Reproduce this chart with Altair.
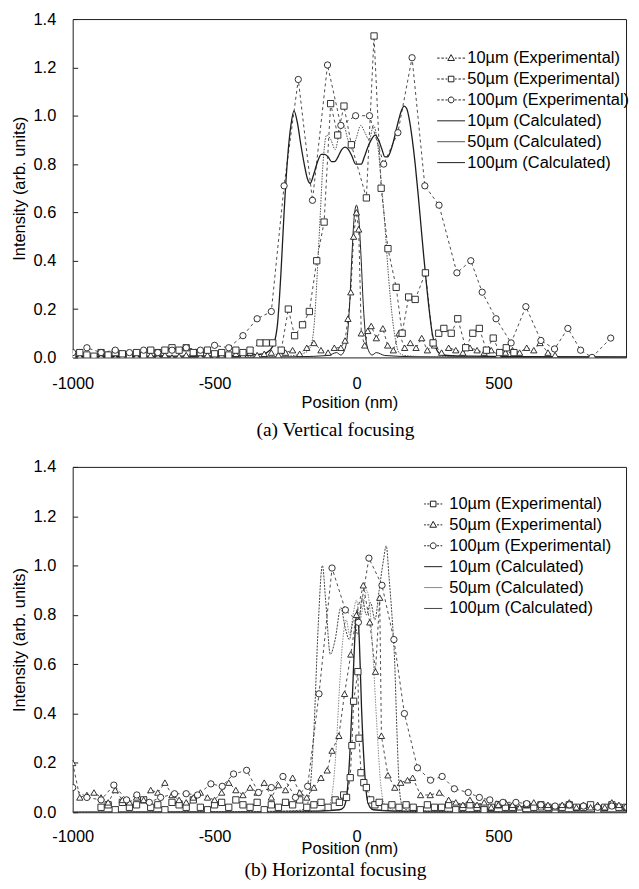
import altair as alt
import pandas as pd

FONT = "Liberation Sans"
SERIF = "Liberation Serif"
INK = "#1e1e1e"

EXP = ["10µm (Experimental)", "50µm (Experimental)", "100µm (Experimental)"]
CALC = ["10µm (Calculated)", "50µm (Calculated)", "100µm (Calculated)"]
SERIES = EXP + CALC

X_TICKS = [-1000, -500, 0, 500]
Y_TICKS = [0.0, 0.2, 0.4, 0.6, 0.8, 1.0, 1.2, 1.4]

# ---------------- (a) Vertical focusing ----------------
a_e10_x = list(range(-1000, -99, 25)) + [-78, -55, -40, -30, -20, -10, 0, 8, 17, 29, 40, 52, 70, 93] \
    + [110, 130, 150, 170, 190, 210, 230, 250] + list(range(275, 626, 25)) + [647, 675, 700]
a_e10_y = [0.01, 0.005, 0.01, 0.0, 0.005, 0.01, 0.0, 0.005, 0.01, 0.005, 0.0, 0.01, 0.005, 0.01, 0.0,
           0.005, 0.01, 0.015, 0.005, 0.01, 0.0, 0.01, 0.005, 0.015, 0.01, 0.02, 0.01, 0.015, 0.02, 0.01,
           0.02, 0.03, 0.015, 0.04, 0.06, 0.03, 0.02,
           0.04, 0.04, 0.07, 0.16, 0.27, 0.50, 0.60, 0.53, 0.10, 0.05, 0.11, 0.13, 0.08, 0.12,
           0.05, 0.03, 0.10, 0.04, 0.06, 0.04, 0.08, 0.03,
           0.05, 0.02, 0.04, 0.03, 0.02, 0.04, 0.03, 0.02, 0.03, 0.01, 0.02, 0.03, 0.02, 0.04, 0.03,
           0.06, 0.02, 0.01]

a_e50_x = list(range(-1000, -374, 25)) + [-340, -318, -295, -265, -240, -218, -190, -166, -140, -114,
                                          -91, -66, -44, -18, 35, 62, 87, 111, 140, 161, 184, 207, 243,
                                          270, 290, 308, 334, 357, 385, 410, 433, 458, 482, 505, 528, 555]
a_e50_y = [0.01, 0.02, 0.01, 0.005, 0.02, 0.01, 0.02, 0.015, 0.01, 0.02, 0.01, 0.03, 0.02, 0.03, 0.04,
           0.03, 0.04, 0.02, 0.02, 0.03, 0.015, 0.02, 0.01, 0.03, 0.02, 0.03,
           0.06, 0.06, 0.06, 0.03, 0.20, 0.09, 0.135, 0.19, 0.40, 0.56, 1.05, 0.92, 1.04, 0.88, 0.66,
           1.33, 0.70, 0.45, 0.29, 0.10, 0.25, 0.24, 0.35, 0.06, 0.10, 0.12, 0.10, 0.16, 0.04, 0.10,
           0.12, 0.03, 0.08, 0.02, 0.04, 0.02]

a_e100_x = [-1000, -950, -900, -850, -800, -750, -700, -650, -600, -550, -500, -450, -400, -350, -300,
            -255, -205, -155, -102, -55, -3, 46, 96, 146, 196, 241, 291, 354, 403, 443, 492, 545, 597,
            650, 698, 745, 790, 830, 896]
a_e100_y = [0.02, 0.04, 0.02, 0.03, 0.02, 0.03, 0.02, 0.03, 0.04, 0.03, 0.05, 0.04, 0.09, 0.16, 0.19,
            0.71, 1.15, 0.65, 1.21, 0.96, 1.00, 1.00, 0.80, 0.93, 1.24, 0.71, 0.63, 0.35, 0.40, 0.27,
            0.16, 0.06, 0.21, 0.07, 0.035, 0.12, 0.03, 0.0, 0.08]

a_c10_x = [-1000, -500, -200, -100, -70, -55, -42, -32, -24, -16, -8, 0, 8, 16, 24, 32, 42, 55, 70,
           100, 200, 500, 1000]
a_c10_y = [0, 0, 0.003, 0.008, 0.02, 0.01, 0.03, 0.09, 0.22, 0.42, 0.58, 0.63, 0.58, 0.42, 0.22, 0.09,
           0.03, 0.01, 0.02, 0.008, 0.003, 0, 0]

a_c50_x = [-1000, -500, -250, -180, -160, -148, -138, -128, -118, -105, -90, -75, -60, -45, -30, -15, 0,
           15, 30, 45, 60, 75, 88, 100, 112, 125, 138, 150, 170, 250, 500, 1000]
a_c50_y = [0, 0.002, 0.005, 0.02, 0.05, 0.15, 0.35, 0.58, 0.80, 0.92, 0.90, 0.86, 0.93, 0.96, 0.90,
           0.86, 0.91, 0.96, 0.93, 0.90, 0.96, 0.88, 0.72, 0.55, 0.35, 0.18, 0.07, 0.02, 0.008, 0.003,
           0.002, 0]

a_c100_x = [-1000, -600, -400, -330, -305, -290, -278, -266, -255, -243, -231, -220, -208, -196, -184,
            -173, -163, -150, -137, -124, -112, -100, -88, -77, -65, -52, -40, -28, -15, -3, 8, 17, 28,
            40, 52, 66, 78, 90, 100, 110, 122, 134, 146, 158, 168, 177, 187, 197, 207, 217, 227, 237,
            247, 257, 267, 280, 295, 320, 400, 600, 1000]
a_c100_y = [0.003, 0.005, 0.008, 0.015, 0.03, 0.06, 0.14, 0.35, 0.60, 0.82, 0.96, 1.02, 0.97, 0.88,
            0.80, 0.74, 0.72, 0.76, 0.81, 0.84, 0.84, 0.83, 0.81, 0.81, 0.83, 0.86, 0.87, 0.86, 0.83,
            0.80, 0.80, 0.80, 0.83, 0.87, 0.90, 0.92, 0.90, 0.86, 0.83, 0.83, 0.86, 0.91, 0.97, 1.02,
            1.04, 1.03, 0.98, 0.90, 0.80, 0.68, 0.55, 0.42, 0.30, 0.19, 0.10, 0.04, 0.015, 0.008, 0.005,
            0.003, 0.002]

# ---------------- (b) Horizontal focusing ----------------
b_e10_x = list(range(-900, -99, 25)) + [-75, -60, -45, -35, -22, -16, -10, 5, 9, 16, 26, 35, 50, 65, 80,
                                        100] + list(range(125, 1001, 25))
b_e10_y = [0.02, 0.03, 0.01, 0.04, 0.02, 0.03, 0.05, 0.02, 0.03, 0.01, 0.04, 0.03, 0.02, 0.05, 0.02,
           0.01, 0.03, 0.04, 0.02, 0.05, 0.03, 0.02, 0.04, 0.01, 0.03, 0.02, 0.04, 0.03, 0.05, 0.02,
           0.03, 0.04, 0.02,
           0.05, 0.04, 0.07, 0.06, 0.14, 0.27, 0.45, 0.57, 0.30, 0.16, 0.12, 0.10, 0.05, 0.03, 0.04, 0.02,
           0.03, 0.02, 0.03, 0.02, 0.01, 0.03, 0.02, 0.02, 0.03, 0.01, 0.02, 0.03, 0.02, 0.01, 0.02,
           0.03, 0.02, 0.02, 0.01, 0.03, 0.02, 0.03, 0.02, 0.01, 0.02, 0.03, 0.02, 0.02, 0.03, 0.01,
           0.02, 0.03, 0.02, 0.02, 0.01, 0.02]

b_e50_x = list(range(-1000, -149, 25)) + [-125, -103, -86, -62, -42, -20, 0, 24, 47, 67, 82, 88, 111,
                                          135, 156, 180, 198, 226, 260, 292] + list(range(325, 1001, 25))
b_e50_y = [0.20, 0.06, 0.07, 0.08, 0.06, 0.04, 0.09, 0.05, 0.04, 0.06, 0.05, 0.09, 0.08, 0.12, 0.07,
           0.05, 0.04, 0.06, 0.08, 0.06, 0.05, 0.08, 0.12, 0.09, 0.07, 0.10, 0.08, 0.12, 0.06, 0.11,
           0.09, 0.14, 0.08, 0.06, 0.10,
           0.14, 0.17, 0.25, 0.31, 0.48, 0.64, 0.80, 0.92, 0.77, 0.57, 0.87, 0.31, 0.15, 0.10, 0.12,
           0.13, 0.14, 0.07, 0.07, 0.08,
           0.05, 0.04, 0.03, 0.05, 0.03, 0.04, 0.02, 0.03, 0.04, 0.03, 0.02, 0.03, 0.04, 0.02, 0.03,
           0.02, 0.03, 0.04, 0.02, 0.03, 0.02, 0.03, 0.02, 0.04, 0.03, 0.02, 0.03, 0.02]

b_e100_x = [-1000, -950, -900, -855, -810, -774, -730, -690, -641, -600, -560, -513, -473, -433, -387,
            -345, -300, -259, -215, -172, -132, -86, -39, 7, 44, 90, 132, 169, 215, 261, 302, 345, 394,
            433, 470, 516, 562, 600, 650, 700, 750, 800, 850, 900, 953, 1000]
b_e100_y = [0.10, 0.06, 0.05, 0.11, 0.05, 0.07, 0.04, 0.06, 0.075, 0.075, 0.07, 0.115, 0.105, 0.155,
            0.17, 0.08, 0.10, 0.145, 0.06, 0.105, 0.48, 0.99, 0.82, 0.77, 1.03, 0.92, 0.70, 0.40, 0.18,
            0.13, 0.145, 0.095, 0.08, 0.06, 0.05, 0.04, 0.04, 0.035, 0.03, 0.025, 0.03, 0.025, 0.02,
            0.025, 0.02, 0.03]

b_c10_x = [-1000, -200, -60, -45, -35, -25, -15, -5, 2, 10, 18, 28, 38, 48, 60, 200, 1000]
b_c10_y = [0, 0.003, 0.01, 0.02, 0.06, 0.20, 0.45, 0.72, 0.82, 0.70, 0.42, 0.18, 0.05, 0.02, 0.01, 0.003, 0]

b_c50_x = [-1000, -150, -100, -85, -72, -60, -48, -36, -24, -12, 0, 12, 24, 36, 48, 60, 72, 85, 100, 150,
           1000]
b_c50_y = [0, 0.005, 0.02, 0.08, 0.25, 0.50, 0.70, 0.78, 0.72, 0.80, 0.86, 0.78, 0.84, 0.90, 0.82, 0.60,
           0.35, 0.12, 0.03, 0.005, 0]

b_c100_x = [-1000, -300, -200, -180, -165, -150, -135, -120, -108, -92, -75, -55, -40, -25, -10, 5, 20,
            35, 50, 65, 80, 95, 105, 115, 125, 135, 142, 150, 160, 175, 300, 1000]
b_c100_y = [0, 0.003, 0.008, 0.015, 0.08, 0.33, 0.75, 1.00, 0.85, 0.64, 0.70, 0.83, 0.75, 0.70, 0.78,
            0.72, 0.87, 0.80, 0.85, 0.78, 0.90, 1.02, 1.08, 0.95, 0.80, 0.60, 0.35, 0.12, 0.03, 0.01,
            0.004, 0]


def table(pairs):
    rows = []
    for name, xs, ys in pairs:
        assert len(xs) == len(ys), (name, len(xs), len(ys))
        rows += [{"series": name, "x": a, "y": b} for a, b in zip(xs, ys)]
    return pd.DataFrame(rows)


df_a = table([(EXP[0], a_e10_x, a_e10_y), (EXP[1], a_e50_x, a_e50_y), (EXP[2], a_e100_x, a_e100_y),
              (CALC[0], a_c10_x, a_c10_y), (CALC[1], a_c50_x, a_c50_y), (CALC[2], a_c100_x, a_c100_y)])
df_b = table([(EXP[0], b_e10_x, b_e10_y), (EXP[1], b_e50_x, b_e50_y), (EXP[2], b_e100_x, b_e100_y),
              (CALC[0], b_c10_x, b_c10_y), (CALC[1], b_c50_x, b_c50_y), (CALC[2], b_c100_x, b_c100_y)])

TRI = "M0,-0.5L0.48,0.34L-0.48,0.34Z"
SQR = "M-0.4,-0.4H0.4V0.4H-0.4Z"
CIR = "M-0.42,0A0.42,0.42,0,1,1,0.42,0A0.42,0.42,0,1,1,-0.42,0Z"


def exp_glyph(marker, h):
    if h > 1.6:
        side = "M-2,0H-1.65M-1.4,0H-1.05M-0.8,0H-0.55M0.55,0H0.8M1.05,0H1.4M1.65,0H2"
    else:
        side = "M-1.3,0H-1.05M-0.85,0H-0.55M0.55,0H0.85M1.05,0H1.3"
    return side + marker


def calc_glyph(h):
    return "M%s,0H%s" % (-h, h)


def panel(df, shapes, calc_styles, caption, leg_x, leg_y, h, label_pad, title_y, height, cap_off):
    x = alt.X("x:Q", scale=alt.Scale(domain=[-1000, 950], nice=False, zero=False),
              axis=alt.Axis(values=X_TICKS, title="Position (nm)", ticks=False, tickSize=0,
                            labelFlush=False, labelExpr="datum.value",
                            labelPadding=label_pad, titleY=title_y, titleBaseline="top"))
    y = alt.Y("y:Q", scale=alt.Scale(domain=[0, 1.4], nice=False),
              axis=alt.Axis(values=Y_TICKS, format=".1f", title="Intensity (arb. units)",
                            offset=-5, tickSize=5, tickColor=INK, tickWidth=1, labelPadding=17,
                            titlePadding=5))
    base = alt.Chart(df)
    layers = [
        base.transform_filter(alt.FieldOneOfPredicate(field="series", oneOf=EXP))
        .mark_line(strokeDash=[3, 3], strokeWidth=0.8, color=INK, clip=True)
        .encode(x=x, y=y, detail="series:N")
    ]
    for name, (dash, width, col) in zip(CALC, calc_styles):
        kw = dict(strokeWidth=width, color=col, interpolate="monotone", clip=True)
        if dash:
            kw["strokeDash"] = dash
        layers.append(base.transform_filter(alt.datum.series == name).mark_line(**kw).encode(x=x, y=y))
    for name, shp in zip(EXP, shapes):
        layers.append(
            base.transform_filter(alt.datum.series == name)
            .mark_point(shape=shp, size=40, fill="white", stroke=INK, strokeWidth=0.9, opacity=1,
                        clip=True)
            .encode(x=x, y=y)
        )
    marker_paths = {"triangle-up": TRI, "square": SQR, "circle": CIR}
    glyphs = [exp_glyph(marker_paths[s], h) for s in shapes] + [calc_glyph(h)] * 3
    strokes = [INK, INK, INK] + [c for (_, _, c) in calc_styles]
    leg = alt.Legend(title=None, orient="none", legendX=leg_x, legendY=leg_y, labelFont=FONT,
                     labelFontSize=16.5, labelColor="black", symbolSize=196, symbolStrokeWidth=1,
                     symbolOpacity=1, labelOffset=8, rowPadding=4, padding=0, labelLimit=300)
    legend_df = pd.DataFrame({"series": SERIES, "x": [0] * 6, "y": [0] * 6})
    layers.append(
        alt.Chart(legend_df).mark_point(opacity=0, size=196, filled=False)
        .encode(x=x, y=y,
                shape=alt.Shape("series:N", scale=alt.Scale(domain=SERIES, range=glyphs), legend=leg),
                stroke=alt.Stroke("series:N", scale=alt.Scale(domain=SERIES, range=strokes), legend=leg))
    )
    return alt.layer(*layers).properties(
        width=556, height=height,
        title=alt.TitleParams(text=caption, orient="bottom", font=SERIF, fontSize=19.5,
                              fontWeight="normal", color="black", anchor="middle", dx=-14,
                              offset=cap_off),
    )


top = panel(df_a, ["triangle-up", "square", "circle"],
            [(None, 1.0, INK), ([1.5, 1.2], 1.0, "#555555"), (None, 1.3, INK)],
            "(a) Vertical focusing", 372, 31, 2.0, 18, 37, 340, 10)
bottom = panel(df_b, ["square", "triangle-up", "circle"],
               [(None, 1.3, INK), ([1.5, 1.2], 1.0, "#8a8a8a"), ([2, 1.2], 1.0, "#444444")],
               "(b) Horizontal focusing", 354, 29, 1.3, 16, 28, 347, 5)

chart = (
    alt.vconcat(top, bottom, spacing=18)
    .resolve_scale(shape="independent", stroke="independent")
    .resolve_legend(shape="independent", stroke="independent")
    .properties(padding={"left": 3, "top": 0, "right": 0, "bottom": 0})
    .configure(font=FONT)
    .configure_view(stroke=INK, strokeWidth=1)
    .configure_axis(grid=False, domain=False, labelFont=FONT, labelFontSize=16.5, labelColor="black",
                    titleFont=FONT, titleFontSize=16.5, titleFontWeight="normal", titleColor="black")
)

chart.save("out.html", embed_options={"renderer": "svg", "actions": False})
